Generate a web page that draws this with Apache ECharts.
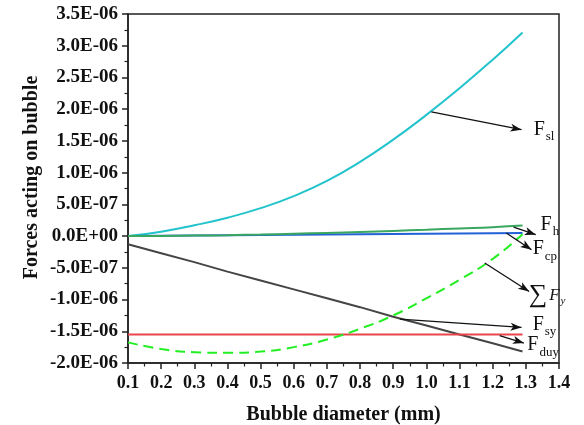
<!DOCTYPE html>
<html>
<head>
<meta charset="utf-8">
<script src="https://cdn.jsdelivr.net/npm/echarts@6/dist/echarts.min.js"></script>
<style>
  html, body { margin: 0; padding: 0; background: #fff; }
  #chart { width: 584px; height: 425px; }
</style>
</head>
<body>
<div id="chart"></div>
<script>
// Bubble diameter (mm)
const diameter = [0.1, 0.2, 0.3, 0.4, 0.5, 0.6, 0.7, 0.8, 0.9, 1.0, 1.1, 1.2, 1.29];
// Forces, in units of 1E-06
const Fsl  = [0, 0.07, 0.17, 0.29, 0.44, 0.63, 0.87, 1.17, 1.52, 1.91, 2.33, 2.78, 3.21];
const Fcp  = [0, 0.004, 0.008, 0.012, 0.016, 0.02, 0.024, 0.028, 0.032, 0.036, 0.04, 0.045, 0.05];
const Fh   = [0, 0.003, 0.008, 0.015, 0.025, 0.037, 0.05, 0.065, 0.082, 0.10, 0.12, 0.14, 0.165];
const Fduy = [-0.13, -0.27, -0.41, -0.56, -0.70, -0.84, -0.98, -1.12, -1.27, -1.41, -1.55, -1.69, -1.82];
const Fsy  = [-1.55, -1.55, -1.55, -1.55, -1.55, -1.55, -1.55, -1.55, -1.55, -1.55, -1.55, -1.55, -1.55];
const sumFy = [-1.675, -1.78, -1.83, -1.84, -1.82, -1.75, -1.63, -1.46, -1.25, -0.98, -0.69, -0.36, 0.03];

const UNIT = 1e-6;
const SERIF = 'Liberation Serif';

const pairs = ys => diameter.map((x, i) => [x, ys[i]]);

// Callout arrows (tail on the curve, head near the label) and label anchors
const callouts = [
  { text: '{F|F}{s|sl}',   tail: [1.015, 1.956],  head: [1.287, 1.677],  at: [1.322, 1.68] },
  { text: '{F|F}{s|h}',    tail: [1.263, 0.143],  head: [1.330, 0.022],  at: [1.343, 0.18] },
  { text: '{F|F}{s|cp}',   tail: [1.241, 0.049],  head: [1.317, -0.214], at: [1.319, -0.205] },
  { text: '{sig|∑}{Fi|F}{si|y}', tail: [1.176, -0.424], head: [1.310, -0.872], at: [1.307, -0.93] },
  { text: '{F|F}{s|sy}',   tail: [0.920, -1.307], head: [1.287, -1.439], at: [1.319, -1.395] },
  { text: '{F|F}{s|duy}',  tail: [1.221, -1.570], head: [1.294, -1.685], at: [1.303, -1.72] }
];

const rich = {
  F:   { fontFamily: SERIF, fontSize: 20, color: '#111' },
  s:   { fontFamily: SERIF, fontSize: 13, color: '#111', padding: [14, 0, 0, 1] },
  sig: { fontFamily: SERIF, fontSize: 26, color: '#111' },
  Fi:  { fontFamily: SERIF, fontSize: 17, fontStyle: 'italic', color: '#111', padding: [0, 0, 0, 2] },
  si:  { fontFamily: SERIF, fontSize: 11, fontStyle: 'italic', color: '#111', padding: [12, 0, 0, 1] }
};

function sciLabel(v) {
  const s = (v * UNIT).toExponential(1).toUpperCase();
  return s.replace(/E([+-])(\d)$/, 'E$10$2');
}

const tickText = size => ({ fontFamily: SERIF, fontWeight: 'bold', fontSize: size, color: '#111' });
const nameText = { fontFamily: SERIF, fontWeight: 'bold', fontSize: 20, color: '#111' };
const axisLine = { show: true, onZero: false, lineStyle: { color: '#222', width: 1.5 } };
const axisTick = { show: true, inside: false, length: 6, lineStyle: { color: '#222', width: 1.5 } };
const minorTick = { show: true, splitNumber: 2, length: 3.5, lineStyle: { color: '#222', width: 1.2 } };

const line = (name, ys, color, extra) => Object.assign({
  name, type: 'line', data: pairs(ys), showSymbol: false, symbol: 'none',
  lineStyle: { color, width: 2 }, itemStyle: { color }, silent: true
}, extra || {});

const chart = echarts.init(document.getElementById('chart'), null, { renderer: 'canvas' });

chart.setOption({
  animation: false,
  backgroundColor: '#fff',
  grid: {
    left: 128, right: 25, top: 14, bottom: 62,
    containLabel: false, outerBoundsMode: 'none',
    show: true, borderColor: '#222', borderWidth: 1.5, backgroundColor: 'transparent'
  },
  xAxis: {
    type: 'value', min: 0.1, max: 1.4, interval: 0.1,
    name: 'Bubble diameter (mm)', nameLocation: 'middle', nameGap: 42, nameTextStyle: nameText,
    nameMoveOverlap: false,
    axisLine, axisTick, minorTick,
    splitLine: { show: false },
    axisLabel: Object.assign({ margin: 11, formatter: v => v.toFixed(1) }, tickText(18))
  },
  yAxis: {
    type: 'value', min: -2, max: 3.5, interval: 0.5,
    name: 'Forces acting on bubble', nameLocation: 'middle', nameGap: 86,
    nameMoveOverlap: false,
    // extra leading padding lifts the rotated title slightly above the plot centre
    nameTextStyle: Object.assign({ padding: [0, 0, 0, 22] }, nameText),
    axisLine, axisTick, minorTick,
    splitLine: { show: false },
    axisLabel: Object.assign({ margin: 10, formatter: sciLabel }, tickText(19))
  },
  series: [
    line('Fsl', Fsl, '#22c3cc', { smooth: true }),
    line('Fcp', Fcp, '#2362d6'),
    line('Fh', Fh, '#3aa760', { smooth: true }),
    line('Fduy', Fduy, '#454545'),
    line('Fsy', Fsy, '#e8454d'),
    line('sumFy', sumFy, '#22ee22', { smooth: true, lineStyle: { color: '#22ee22', width: 2, type: [10, 6] } }),
    {
      name: 'callouts', type: 'line', data: [], silent: true,
      markLine: {
        silent: true, symbol: ['none', 'arrow'], symbolSize: [6, 11],
        lineStyle: { color: '#111', width: 1.3, type: 'solid' },
        label: { show: false },
        emphasis: { disabled: true },
        data: callouts.map(c => [{ coord: c.tail }, { coord: c.head }])
      },
      markPoint: {
        silent: true, symbol: 'circle', symbolSize: 1,
        itemStyle: { color: 'rgba(0,0,0,0)' },
        label: { show: true, position: 'right', distance: 0, rich },
        data: callouts.map(c => ({ coord: c.at, label: { formatter: c.text } }))
      }
    }
  ]
});
</script>
</body>
</html>
